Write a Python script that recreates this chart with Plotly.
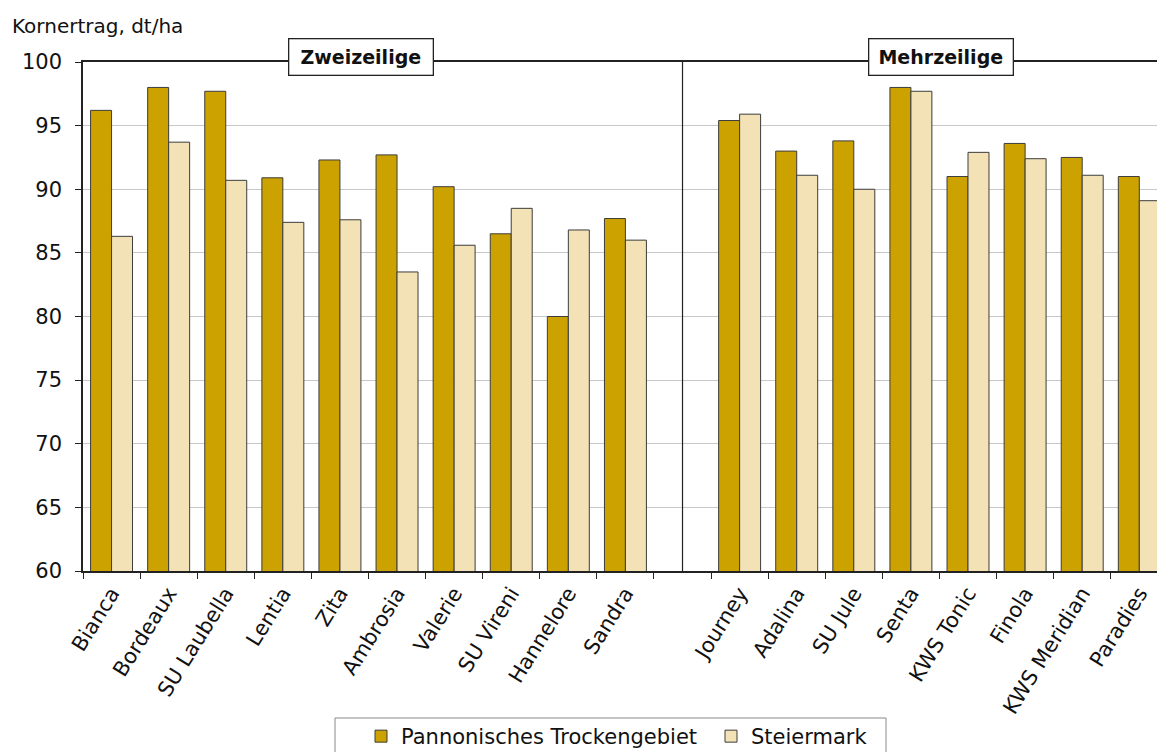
import plotly.graph_objects as go

sorten_zwei = ["Bianca", "Bordeaux", "SU Laubella", "Lentia", "Zita", "Ambrosia",
               "Valerie", "SU Vireni", "Hannelore", "Sandra"]
sorten_mehr = ["Journey", "Adalina", "SU Jule", "Senta", "KWS Tonic", "Finola",
               "KWS Meridian", "Paradies"]
pann_zwei = [96.2, 98.0, 97.7, 90.9, 92.3, 92.7, 90.2, 86.5, 80.0, 87.7]
steier_zwei = [86.3, 93.7, 90.7, 87.4, 87.6, 83.5, 85.6, 88.5, 86.8, 86.0]
pann_mehr = [95.4, 93.0, 93.8, 98.0, 91.0, 93.6, 92.5, 91.0]
steier_mehr = [95.9, 91.1, 90.0, 97.7, 92.9, 92.4, 91.1, 89.1]
gruppen = ["Zweizeilige", "Mehrzeilige"]

gap = " "
cats = sorten_zwei + [gap] + sorten_mehr
pann = pann_zwei + [None] + pann_mehr
steier = steier_zwei + [None] + steier_mehr

FONT = "DejaVu Sans"
C_PANN = "#CCA200"
C_STEI = "#F2E2B6"
EDGE = "#3c3c3c"

PLOT_W = 1157 - 83
PLOT_H = 571 - 62


def px_x(px):
    return (px - 83) / PLOT_W


def px_y(py):
    return (571 - py) / PLOT_H


fig = go.Figure()
fig.add_trace(go.Bar(x=cats, y=pann, name="Pannonisches Trockengebiet",
                     marker=dict(color=C_PANN, line=dict(color=EDGE, width=1))))
fig.add_trace(go.Bar(x=cats, y=steier, name="Steiermark",
                     marker=dict(color=C_STEI, line=dict(color=EDGE, width=1))))

fig.update_layout(
    width=1157, height=752,
    margin=dict(l=83, r=0, t=62, b=181, autoexpand=False),
    paper_bgcolor="white", plot_bgcolor="white",
    barmode="group", bargap=0.265, bargroupgap=0,
    font=dict(family=FONT, size=20, color="#111111"),
    showlegend=True,
    legend=dict(orientation="h", x=px_x(361), xanchor="left",
                y=px_y(716), yanchor="top",
                borderwidth=0, bgcolor="rgba(0,0,0,0)", font=dict(size=21),
                traceorder="normal", itemwidth=30,
                entrywidth=305, entrywidthmode="pixels"),
    xaxis=dict(type="category", categoryorder="array", categoryarray=cats,
               range=[-0.5, 18.31], showline=True, linecolor="#222222", linewidth=1.5,
               mirror=True, ticks="outside", ticklen=6, tickcolor="#222222",
               tickson="boundaries", tickangle=-58, showgrid=False,
               tickfont=dict(size=21), automargin=False),
    yaxis=dict(range=[60, 100], tickvals=[60, 65, 70, 75, 80, 85, 90, 95, 100],
               showline=True, linecolor="#222222", linewidth=1.5, ticks="outside",
               ticklen=6, tickcolor="#222222", showgrid=True, gridcolor="#c8c8c8",
               gridwidth=1, zeroline=False, tickfont=dict(size=21),
               ticklabelstandoff=9, automargin=False),
)

fig.add_shape(type="line", xref="x", yref="y", x0=gap, x1=gap, y0=60, y1=100,
              line=dict(color="#222222", width=1.2))

# legend frame
fig.add_shape(type="rect", xref="paper", yref="paper",
              x0=px_x(335), x1=px_x(886), y0=px_y(770), y1=px_y(718),
              line=dict(color="#888888", width=1), fillcolor="rgba(0,0,0,0)",
              layer="below")

fig.add_annotation(text="Kornertrag, dt/ha", xref="paper", yref="paper",
                   x=px_x(10), xanchor="left", y=px_y(26),
                   yanchor="middle", showarrow=False, font=dict(size=20))

for label, xpx in zip(gruppen, [360.5, 940.5]):
    fig.add_annotation(text="<b>" + label + "</b>", xref="paper", yref="paper",
                       x=px_x(xpx), y=px_y(57),
                       xanchor="center", yanchor="middle", showarrow=False,
                       width=143, height=35, borderpad=0,
                       bgcolor="white", bordercolor="#222222", borderwidth=1.3,
                       font=dict(size=19))

fig.write_html("out.html")
